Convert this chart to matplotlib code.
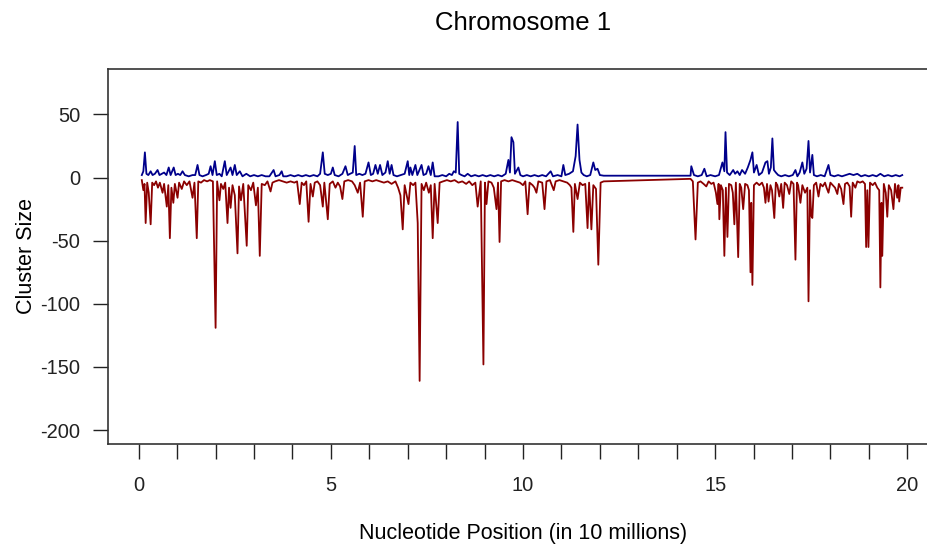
import matplotlib.pyplot as plt
import numpy as np

plt.rcParams['font.family'] = ['Liberation Sans', 'DejaVu Sans']

# positions in units of 10 million nucleotides
red_pos = [0.08, 0.12, 0.15, 0.18, 0.22, 0.26, 0.31, 0.35, 0.40, 0.45, 0.50, 0.55, 0.62, 0.66, 0.73, 0.77,
           0.81, 0.85, 0.90, 0.94, 1.01, 1.05, 1.12, 1.18, 1.25, 1.32, 1.40, 1.45, 1.51, 1.55, 1.62, 1.70,
           1.78, 1.85, 1.93, 2.00, 2.04, 2.10, 2.14, 2.20, 2.25, 2.31, 2.35, 2.39, 2.44, 2.50, 2.57, 2.61,
           2.66, 2.72, 2.81, 2.85, 2.92, 2.98, 3.05, 3.10, 3.15, 3.20, 3.28, 3.35, 3.43, 3.48, 3.55, 3.65,
           3.75, 3.85, 3.95, 4.05, 4.12, 4.19, 4.24, 4.30, 4.36, 4.42, 4.47, 4.53, 4.58, 4.65, 4.72, 4.79,
           4.83, 4.92, 4.97, 5.05, 5.12, 5.18, 5.24, 5.30, 5.35, 5.45, 5.55, 5.62, 5.70, 5.76, 5.83, 5.88,
           5.98, 6.08, 6.18, 6.28, 6.38, 6.48, 6.58, 6.68, 6.75, 6.81, 6.87, 6.92, 7.02, 7.07, 7.14, 7.20,
           7.26, 7.31, 7.36, 7.42, 7.48, 7.55, 7.60, 7.65, 7.70, 7.78, 7.83, 7.92, 8.02, 8.12, 8.22, 8.32,
           8.42, 8.52, 8.60, 8.68, 8.76, 8.82, 8.90, 8.97, 9.01, 9.05, 9.10, 9.18, 9.24, 9.31, 9.35, 9.39,
           9.43, 9.52, 9.62, 9.72, 9.82, 9.92, 10.00, 10.06, 10.12, 10.17, 10.25, 10.30, 10.35, 10.40, 10.50, 10.56,
           10.61, 10.70, 10.80, 10.85, 10.95, 11.05, 11.15, 11.22, 11.26, 11.31, 11.35, 11.42, 11.48, 11.55, 11.62, 11.68,
           11.72, 11.78, 11.83, 11.90, 11.96, 12.02, 12.10, 14.36, 14.42, 14.49, 14.55, 14.62, 14.70, 14.77, 14.83, 14.90,
           14.96, 15.02, 15.06, 15.09, 15.11, 15.15, 15.20, 15.24, 15.28, 15.32, 15.36, 15.42, 15.46, 15.50, 15.54, 15.60,
           15.64, 15.68, 15.73, 15.78, 15.84, 15.88, 15.92, 15.94, 15.97, 16.01, 16.08, 16.15, 16.22, 16.27, 16.31, 16.35,
           16.39, 16.44, 16.48, 16.54, 16.58, 16.62, 16.67, 16.72, 16.77, 16.81, 16.87, 16.93, 16.98, 17.04, 17.09, 17.13,
           17.16, 17.22, 17.27, 17.34, 17.40, 17.43, 17.47, 17.50, 17.53, 17.57, 17.63, 17.69, 17.74, 17.80, 17.86, 17.90,
           17.95, 18.00, 18.06, 18.12, 18.18, 18.22, 18.28, 18.34, 18.38, 18.44, 18.50, 18.54, 18.58, 18.65, 18.70, 18.77,
           18.84, 18.90, 18.93, 18.96, 18.99, 19.03, 19.10, 19.16, 19.22, 19.27, 19.30, 19.33, 19.35, 19.39, 19.44, 19.48,
           19.52, 19.58, 19.64, 19.68, 19.74, 19.77, 19.79, 19.83, 19.87]
red_size = [-2, -10, -5, -36, -4, -12, -37, -4, -6, -3, -8, -4, -12, -5, -23, -6,
            -48, -8, -20, -5, -16, -4, -9, -3, -6, -3, -16, -4, -48, -3, -4, -2,
            -3, -2, -3, -119, -3, -18, -5, -9, -4, -36, -8, -24, -6, -14, -60, -7,
            -18, -5, -54, -6, -10, -4, -22, -8, -62, -5, -6, -3, -11, -4, -3, -2,
            -3, -4, -3, -4, -3, -21, -4, -6, -3, -35, -5, -15, -4, -3, -6, -23,
            -4, -33, -5, -3, -8, -4, -7, -17, -3, -2, -3, -6, -12, -4, -31, -3,
            -2, -3, -2, -3, -4, -3, -5, -3, -8, -14, -41, -6, -21, -4, -6, -4,
            -36, -161, -5, -10, -4, -12, -6, -48, -5, -36, -4, -3, -2, -3, -2, -4,
            -3, -5, -3, -6, -4, -23, -3, -148, -4, -21, -3, -4, -8, -25, -4, -51,
            -3, -2, -3, -2, -3, -4, -6, -3, -29, -4, -6, -8, -12, -3, -4, -25,
            -3, -2, -10, -3, -2, -3, -4, -6, -8, -43, -5, -17, -4, -6, -5, -40,
            -4, -41, -6, -9, -69, -4, -3, -1, -3, -49, -4, -3, -5, -7, -3, -5,
            -4, -12, -21, -5, -33, -6, -10, -62, -8, -47, -5, -6, -12, -37, -4, -63,
            -5, -8, -25, -5, -6, -10, -75, -20, -85, -6, -4, -6, -4, -8, -20, -5,
            -19, -6, -10, -32, -4, -6, -15, -5, -24, -4, -6, -13, -3, -5, -65, -4,
            -6, -20, -6, -12, -8, -98, -10, -30, -32, -6, -4, -15, -5, -7, -4, -8,
            -12, -4, -6, -8, -13, -5, -9, -21, -5, -4, -7, -31, -4, -8, -3, -4,
            -3, -5, -55, -10, -55, -4, -6, -4, -8, -10, -87, -20, -62, -5, -12, -31,
            -6, -10, -25, -5, -16, -6, -19, -8, -8]

blue_pos = [0.08, 0.12, 0.16, 0.20, 0.25, 0.31, 0.36, 0.42, 0.49, 0.54, 0.60, 0.66, 0.72, 0.78, 0.83, 0.91,
            0.96, 1.02, 1.08, 1.14, 1.20, 1.30, 1.40, 1.47, 1.53, 1.58, 1.66, 1.75, 1.82, 1.87, 1.92, 1.98,
            2.03, 2.10, 2.16, 2.24, 2.29, 2.39, 2.44, 2.50, 2.55, 2.63, 2.70, 2.80, 2.90, 3.00, 3.10, 3.20,
            3.30, 3.40, 3.51, 3.56, 3.66, 3.72, 3.76, 3.85, 3.95, 4.05, 4.15, 4.25, 4.35, 4.45, 4.55, 4.65,
            4.72, 4.79, 4.84, 4.92, 5.00, 5.05, 5.10, 5.20, 5.30, 5.38, 5.44, 5.50, 5.57, 5.62, 5.66, 5.74,
            5.82, 5.90, 5.98, 6.04, 6.10, 6.16, 6.22, 6.28, 6.34, 6.42, 6.48, 6.53, 6.58, 6.63, 6.72, 6.82,
            6.92, 7.00, 7.04, 7.07, 7.12, 7.20, 7.25, 7.36, 7.41, 7.48, 7.54, 7.60, 7.65, 7.70, 7.80, 7.90,
            8.00, 8.08, 8.15, 8.20, 8.25, 8.30, 8.34, 8.40, 8.48, 8.56, 8.65, 8.75, 8.85, 8.95, 9.05, 9.15,
            9.25, 9.35, 9.45, 9.55, 9.62, 9.66, 9.70, 9.75, 9.79, 9.88, 9.93, 10.00, 10.10, 10.20, 10.30, 10.40,
            10.50, 10.60, 10.72, 10.78, 10.90, 11.00, 11.05, 11.10, 11.20, 11.30, 11.37, 11.42, 11.47, 11.52, 11.58, 11.66,
            11.75, 11.83, 11.88, 11.94, 12.00, 12.10, 14.36, 14.38, 14.45, 14.55, 14.65, 14.72, 14.78, 14.88, 15.00, 15.10,
            15.19, 15.24, 15.27, 15.31, 15.38, 15.47, 15.52, 15.58, 15.64, 15.70, 15.78, 15.85, 15.92, 15.97, 16.01, 16.08,
            16.14, 16.22, 16.31, 16.36, 16.40, 16.45, 16.49, 16.53, 16.58, 16.64, 16.72, 16.82, 16.92, 17.02, 17.09, 17.14,
            17.20, 17.27, 17.32, 17.38, 17.43, 17.47, 17.53, 17.57, 17.65, 17.75, 17.85, 17.95, 18.00, 18.10, 18.20, 18.30,
            18.40, 18.50, 18.60, 18.70, 18.80, 18.90, 19.00, 19.10, 19.20, 19.30, 19.40, 19.50, 19.60, 19.70, 19.80, 19.87]
blue_size = [2, 5, 20, 3, 2, 5, 2, 3, 6, 2, 3, 4, 2, 8, 2, 8,
             2, 3, 2, 5, 2, 1, 2, 2, 10, 2, 1, 2, 3, 9, 2, 13,
             2, 3, 1, 13, 2, 8, 2, 10, 2, 5, 1, 3, 1, 2, 1, 2,
             1, 1, 6, 1, 2, 5, 1, 1, 2, 1, 2, 1, 2, 1, 2, 1,
             3, 20, 3, 2, 3, 8, 2, 1, 3, 9, 2, 3, 4, 25, 2, 3,
             2, 3, 12, 2, 3, 10, 3, 10, 2, 4, 13, 3, 10, 2, 1, 2,
             3, 13, 2, 8, 2, 10, 2, 10, 2, 3, 9, 2, 12, 1, 1, 2,
             1, 3, 2, 5, 4, 44, 3, 2, 1, 3, 1, 2, 1, 2, 1, 2,
             1, 2, 1, 3, 14, 4, 32, 28, 3, 8, 2, 1, 2, 1, 2, 1,
             2, 1, 5, 1, 2, 1, 10, 2, 3, 5, 17, 42, 14, 4, 2, 1,
             2, 12, 6, 7, 2, 1.5, 1.5, 9, 2, 1, 2, 7, 1, 2, 1, 2,
             12, 5, 36, 4, 2, 6, 3, 5, 2, 6, 3, 8, 14, 20, 4, 10,
             2, 4, 12, 13, 3, 8, 31, 6, 4, 2, 1, 2, 1, 2, 6, 1,
             4, 12, 3, 7, 29, 4, 18, 2, 1, 2, 1, 10, 2, 1, 2, 1,
             2, 3, 2, 3, 1, 2, 1, 2, 1, 3, 1, 2, 1, 2, 1, 2]

x_ticks = list(range(0, 21))
x_labels = [str(t) if t % 5 == 0 else '' for t in x_ticks]
y_ticks = [-200, -150, -100, -50, 0, 50]

fig = plt.figure(figsize=(9.27, 5.48), dpi=100)
ax = fig.add_axes([108 / 927, 1 - 444 / 548, 830 / 927, 375 / 548])

ax.plot(red_pos, red_size, color='#8B0000', lw=1.3)
ax.plot(blue_pos, blue_size, color='#00008B', lw=1.3)

ax.set_xlim(-0.8, 20.8)
ax.set_ylim(-211, 86)
ax.set_xticks(x_ticks)
ax.set_xticklabels(x_labels)
ax.set_yticks(y_ticks)
ax.set_yticklabels([str(t) for t in y_ticks])
ax.tick_params(direction='out', length=11, width=1, labelsize=14.5, colors='#222222')
ax.tick_params(axis='x', pad=12)
ax.tick_params(axis='y', pad=9)

for s in ax.spines.values():
    s.set_linewidth(1.2)
    s.set_color('#333333')

ax.set_title('Chromosome 1', fontsize=18.5, pad=28)
ax.set_xlabel('Nucleotide Position (in 10 millions)', fontsize=15.5, labelpad=20)
ax.set_ylabel('Cluster Size', fontsize=15.5, labelpad=2)

fig.savefig('out.png', dpi=100)
